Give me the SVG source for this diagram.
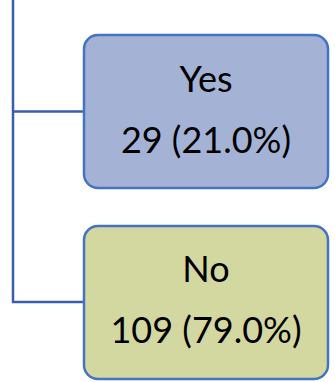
<svg xmlns="http://www.w3.org/2000/svg" width="335" height="382" viewBox="0 0 335 382">
<style>
.box{stroke:#4472C4;stroke-width:2.5}
.t{font-family:Lato,"Open Sans",sans-serif;font-size:36px;fill:#000;text-anchor:middle}
.c{fill:none;stroke:#3A5EAD;stroke-width:2.5}
</style>
<rect width="335" height="382" fill="#fff"/>
<g id="connectors">
<path class="c" d="M13,0 V302 H84"/>
<path class="c" d="M13,111.5 H84"/>
</g>
<g id="yes">
<rect class="box" x="84" y="35" width="244" height="153" rx="14" fill="#A4B3D5"/>
<text class="t" x="206" y="92">Yes</text>
<text class="t" x="206" y="153">29 (21.0%)</text>
</g>
<g id="no">
<rect class="box" x="84" y="226" width="244" height="153" rx="14" fill="#D3D8A1"/>
<text class="t" x="206" y="282">No</text>
<text class="t" x="206" y="343">109 (79.0%)</text>
</g>
</svg>
